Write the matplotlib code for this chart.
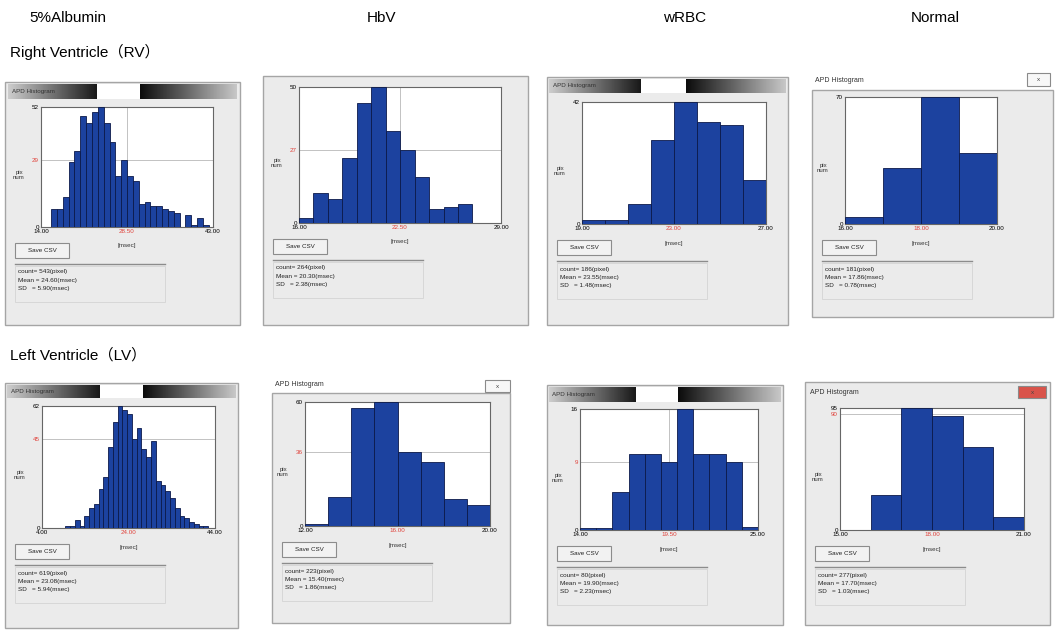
import numpy as np
import matplotlib
matplotlib.use('Agg')
import matplotlib.pyplot as plt
from matplotlib.patches import Rectangle

W, H = 1059, 630

col_titles = ['5%Albumin', 'HbV', 'wRBC', 'Normal']
row_titles = ['Right Ventricle（RV）', 'Left Ventricle（LV）']

# ---- Right ventricle ----
rv_alb_counts = [8, 8, 13, 28, 33, 48, 45, 50, 52, 45, 37, 22, 29, 22, 20,
                 10, 11, 9, 9, 8, 7, 6, 0, 5, 1, 4, 1]
rv_alb_bins = (15.7, 0.985)          # first edge, bin width [msec]
rv_alb_xlim = (14, 43)
rv_alb_y = (52, 29)                  # top label, red label
rv_alb_stats = ('543', '24.60', '5.90')

rv_hbv_counts = [2, 11, 9, 24, 44, 50, 34, 27, 17, 5, 6, 7]
rv_hbv_bins = (16.0, 0.93)
rv_hbv_xlim = (16, 29)
rv_hbv_y = (50, 27)
rv_hbv_stats = ('264', '20.30', '2.38')

rv_wrbc_counts = [1.3, 1.3, 7, 29, 42, 35, 34, 15]
rv_wrbc_bins = (19.0, 1.0)
rv_wrbc_xlim = (19, 27)
rv_wrbc_y = (42, None)
rv_wrbc_stats = ('186', '23.55', '1.48')

rv_norm_counts = [4, 31, 70, 39]
rv_norm_bins = (16.0, 1.0)
rv_norm_xlim = (16, 20)
rv_norm_y = (70, None)
rv_norm_stats = ('181', '17.86', '0.78')

# ---- Left ventricle ----
lv_alb_counts = [1, 1, 4, 1, 6, 10, 12, 20, 26, 41, 54, 62, 60, 58, 45, 51,
                 40, 36, 44, 24, 22, 19, 15, 10, 6, 5, 3, 2, 1, 1]
lv_alb_bins = (9.4, 1.1)
lv_alb_xlim = (4, 44)
lv_alb_y = (62, 45)
lv_alb_stats = ('619', '23.08', '5.94')

lv_hbv_counts = [1, 14, 57, 60, 36, 31, 13, 10]
lv_hbv_bins = (12.0, 1.0)
lv_hbv_xlim = (12, 20)
lv_hbv_y = (60, 36)
lv_hbv_stats = ('223', '15.40', '1.86')

lv_wrbc_counts = [0.3, 0.3, 5, 10, 10, 9, 16, 10, 10, 9, 0.4]
lv_wrbc_bins = (14.0, 1.0)
lv_wrbc_xlim = (14, 25)
lv_wrbc_y = (16, 9)
lv_wrbc_stats = ('80', '19.90', '2.23')

lv_norm_counts = [0, 27, 95, 89, 65, 10]
lv_norm_bins = (15.0, 1.0)
lv_norm_xlim = (15, 21)
lv_norm_y = (95, 90)
lv_norm_stats = ('277', '17.70', '1.03')


fig = plt.figure(figsize=(W / 100, H / 100), dpi=100)
fig.patch.set_facecolor('white')
HEAD_FONT = ['Liberation Sans', 'Noto Sans CJK JP', 'DejaVu Sans']
SMALL_FONT = ['Liberation Sans', 'DejaVu Sans']


def rect(x0, y0, x1, y1, z=2, **kw):
    r = Rectangle((x0 / W, 1 - y1 / H), (x1 - x0) / W, (y1 - y0) / H,
                  transform=fig.transFigure, zorder=z, **kw)
    fig.patches.append(r)


def text(x, y, s, **kw):
    kw.setdefault('family', SMALL_FONT)
    fig.text(x / W, 1 - y / H, s, **kw)


def hline(x0, x1, y, **kw):
    fig.add_artist(plt.Line2D([x0 / W, x1 / W], [1 - y / H, 1 - y / H],
                              transform=fig.transFigure, zorder=2, **kw))


def gradient(x0, y0, x1, y1, v0, v1):
    g = fig.add_axes([x0 / W, 1 - y1 / H, (x1 - x0) / W, (y1 - y0) / H])
    g.imshow(np.linspace(v0, v1, 64)[None, :], cmap='gray', vmin=0, vmax=1,
             aspect='auto')
    g.axis('off')
    return g


def panel(counts, bins, xlim, ylab, stats, win, box, title, vline):
    wl, wt, wr, wb = win
    pl, pt, pr, pb = box
    # window body (behind the axes)
    rect(wl, wt, wr, wb, z=-5, facecolor='#ebebeb', edgecolor='#a5a5a5', lw=1.0)

    if title[0] == 'dark':
        ty0, ty1, a0, a1, b0, b1 = title[1:]
        rect(a1, ty0, b0, ty1, z=-4, facecolor='white', edgecolor='none')
        g = gradient(a0, ty0, a1, ty1, 0.8, 0.1)
        g.text(0.04, 0.5, 'APD Histogram', transform=g.transAxes, fontsize=4.5,
               color='#333333', va='center', family=SMALL_FONT)
        gradient(b0, ty0, b1, ty1, 0.05, 0.78)
    elif title[0] == 'light':
        tx, ty, c0, c1, cc = title[1:]
        text(tx, ty, 'APD Histogram', fontsize=5, color='#333333', va='center')
        rect(c0[0], c0[1], c1[0], c1[1], facecolor=cc, edgecolor='#8a8a8a', lw=0.8)
        text((c0[0] + c1[0]) / 2, (c0[1] + c1[1]) / 2, 'x', fontsize=4.5,
             color='#444444', ha='center', va='center')

    # histogram
    ax = fig.add_axes([pl / W, 1 - pb / H, (pr - pl) / W, (pb - pt) / H])
    ax.set_facecolor('white')
    edges = bins[0] + bins[1] * np.arange(len(counts))
    ax.bar(edges, counts, width=bins[1], align='edge', color='#1c429f',
           edgecolor='#0c1a4a', linewidth=0.6, zorder=3)
    ax.set_xlim(*xlim)
    ax.set_ylim(0, ylab[0])
    center = (xlim[0] + xlim[1]) / 2
    ax.set_xticks([xlim[0], center, xlim[1]])
    ax.set_xticklabels(['%.2f' % xlim[0], '%.2f' % center, '%.2f' % xlim[1]])
    yt = [0, ylab[0]] if ylab[1] is None else [0, ylab[1], ylab[0]]
    ax.set_yticks(yt)
    ax.set_yticklabels([str(v) for v in yt])
    ax.tick_params(length=0, labelsize=4.5, pad=1.5)
    for lab in ax.get_xticklabels() + ax.get_yticklabels():
        lab.set_family(SMALL_FONT)
    ax.get_xticklabels()[1].set_color('#e0413a')
    if ylab[1] is not None:
        ax.get_yticklabels()[1].set_color('#e0413a')
        ax.axhline(ylab[1], color='#b8b8b8', lw=0.6, zorder=1)
    if vline:
        ax.axvline(center, color='#b8b8b8', lw=0.6, zorder=1)
    for s in ax.spines.values():
        s.set_color('#666666')
        s.set_linewidth(0.8)

    text(pl - 22, (pt + pb) / 2 + 8, 'pix\nnum', fontsize=4.3, color='#333333',
         ha='center', va='center', linespacing=1.0)
    text((pl + pr) / 2, pb + 19, '[msec]', fontsize=4.5, color='#333333',
         ha='center', va='center')

    # Save CSV button
    rect(wl + 10, pb + 16, wl + 64, pb + 31, facecolor='#f2f2f2',
         edgecolor='#8c8c8c', lw=0.8)
    text(wl + 37, pb + 23.5, 'Save CSV', fontsize=4.5, color='#222222',
         ha='center', va='center')

    # statistics box
    hline(wl + 10, wl + 160, pb + 37, color='#8c8c8c', lw=1.0)
    rect(wl + 10, pb + 39, wl + 160, pb + 75, facecolor='none',
         edgecolor='#d4d4d4', lw=0.6)
    lines = ['count= %s(pixel)' % stats[0], 'Mean = %s(msec)' % stats[1],
             'SD   = %s(msec)' % stats[2]]
    for i, s in enumerate(lines):
        text(wl + 13, pb + 45 + 8.5 * i, s, fontsize=4.6, color='#222222',
             va='center')


panel(rv_alb_counts, rv_alb_bins, rv_alb_xlim, rv_alb_y, rv_alb_stats,
      (5, 82, 240, 325), (41, 107, 213, 227),
      ('dark', 84, 99, 8, 97, 140, 236), True)
panel(rv_hbv_counts, rv_hbv_bins, rv_hbv_xlim, rv_hbv_y, rv_hbv_stats,
      (263, 76, 528, 325), (299, 87, 501, 223), ('none',), True)
panel(rv_wrbc_counts, rv_wrbc_bins, rv_wrbc_xlim, rv_wrbc_y, rv_wrbc_stats,
      (547, 77, 788, 325), (582, 102, 766, 224),
      ('dark', 79, 93, 549, 640, 686, 786), False)
panel(rv_norm_counts, rv_norm_bins, rv_norm_xlim, rv_norm_y, rv_norm_stats,
      (812, 90, 1053, 317), (845, 97, 997, 224),
      ('light', 815, 81, (1027, 73), (1050, 86), '#f7f7f7'), False)

panel(lv_alb_counts, lv_alb_bins, lv_alb_xlim, lv_alb_y, lv_alb_stats,
      (5, 383, 238, 628), (42, 406, 215, 528),
      ('dark', 385, 398, 7, 100, 143, 236), False)
panel(lv_hbv_counts, lv_hbv_bins, lv_hbv_xlim, lv_hbv_y, lv_hbv_stats,
      (272, 393, 510, 623), (305, 402, 490, 526),
      ('light', 275, 385, (485, 380), (510, 392), '#f7f7f7'), False)
panel(lv_wrbc_counts, lv_wrbc_bins, lv_wrbc_xlim, lv_wrbc_y, lv_wrbc_stats,
      (547, 385, 783, 625), (580, 409, 758, 530),
      ('dark', 387, 402, 549, 635, 678, 781), True)
panel(lv_norm_counts, lv_norm_bins, lv_norm_xlim, lv_norm_y, lv_norm_stats,
      (805, 382, 1050, 625), (840, 408, 1024, 530),
      ('light', 810, 392, (1018, 386), (1046, 398), '#d9534a'), False)

# headers
for x, s in zip([68, 381, 685, 935], col_titles):
    text(x, 18, s, fontsize=11, ha='center', va='center', family=HEAD_FONT)
text(10, 52, row_titles[0], fontsize=11, va='center', family=HEAD_FONT)
text(10, 355, row_titles[1], fontsize=11, va='center', family=HEAD_FONT)

fig.savefig('out.png', dpi=100)
